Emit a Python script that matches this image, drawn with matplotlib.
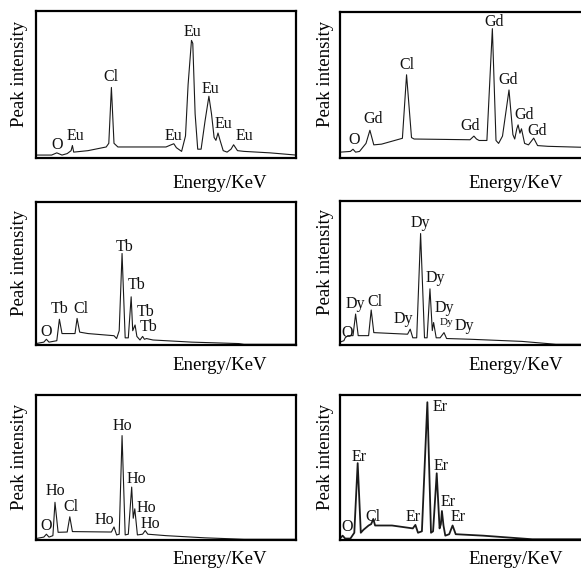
import matplotlib
matplotlib.use("Agg")
import matplotlib.pyplot as plt

plt.rcParams['font.family'] = ['Liberation Serif', 'DejaVu Serif']

# ---- traced spectra (normalised energy 0..1, normalised intensity 0..1) ----
eu_x = [0.00, 0.06, 0.08, 0.10, 0.12, 0.135, 0.14, 0.145, 0.20, 0.27, 0.28, 0.29, 0.30, 0.315,
        0.50, 0.52, 0.53, 0.54, 0.56, 0.575, 0.585, 0.598, 0.603, 0.612, 0.622, 0.635, 0.650,
        0.665, 0.675, 0.685, 0.692, 0.700, 0.708, 0.72, 0.735, 0.75, 0.76, 0.775, 0.80, 0.90, 1.00]
eu_y = [0.02, 0.02, 0.035, 0.02, 0.03, 0.05, 0.085, 0.04, 0.05, 0.075, 0.10, 0.48, 0.10, 0.075,
        0.075, 0.09, 0.097, 0.07, 0.045, 0.15, 0.50, 0.80, 0.78, 0.30, 0.06, 0.06, 0.25,
        0.42, 0.30, 0.14, 0.12, 0.17, 0.12, 0.05, 0.04, 0.06, 0.09, 0.05, 0.045, 0.035, 0.02]
eu_labels = ["O", "Eu", "Cl", "Eu", "Eu", "Eu", "Eu", "Eu"]
eu_lx = [0.08, 0.15, 0.29, 0.53, 0.60, 0.67, 0.72, 0.80]
eu_ly = [0.09, 0.15, 0.55, 0.15, 0.86, 0.47, 0.23, 0.15]

gd_x = [0.00, 0.04, 0.05, 0.06, 0.075, 0.10, 0.115, 0.13, 0.16, 0.24, 0.256, 0.275, 0.285,
        0.50, 0.515, 0.525, 0.535, 0.565, 0.586, 0.600, 0.61, 0.625, 0.65, 0.665, 0.672, 0.68,
        0.685, 0.692, 0.698, 0.71, 0.725, 0.745, 0.76, 0.80, 0.90, 1.00]
gd_y = [0.04, 0.045, 0.06, 0.04, 0.045, 0.10, 0.19, 0.09, 0.095, 0.135, 0.57, 0.14, 0.13,
        0.125, 0.15, 0.13, 0.12, 0.12, 0.886, 0.12, 0.10, 0.15, 0.466, 0.16, 0.13, 0.20,
        0.227, 0.17, 0.20, 0.10, 0.09, 0.136, 0.085, 0.08, 0.075, 0.07]
gd_labels = ["O", "Gd", "Cl", "Gd", "Gd", "Gd", "Gd", "Gd"]
gd_lx = [0.054, 0.128, 0.256, 0.50, 0.592, 0.647, 0.71, 0.76]
gd_ly = [0.125, 0.27, 0.636, 0.22, 0.93, 0.534, 0.295, 0.186]

tb_x = [0.00, 0.03, 0.04, 0.05, 0.08, 0.09, 0.10, 0.15, 0.158, 0.168, 0.20, 0.30, 0.31, 0.32,
        0.331, 0.343, 0.355, 0.366, 0.372, 0.381, 0.388, 0.40, 0.41, 0.417, 0.425, 0.45, 0.60,
        0.78, 0.80, 1.00]
tb_y = [0.01, 0.02, 0.04, 0.02, 0.03, 0.18, 0.08, 0.08, 0.186, 0.09, 0.08, 0.065, 0.045, 0.10,
        0.64, 0.05, 0.05, 0.337, 0.10, 0.14, 0.06, 0.035, 0.06, 0.04, 0.045, 0.035, 0.02,
        0.01, 0.005, 0.005]
tb_labels = ["O", "Tb", "Cl", "Tb", "Tb", "Tb", "Tb"]
tb_lx = [0.04, 0.092, 0.174, 0.34, 0.388, 0.423, 0.433]
tb_ly = [0.093, 0.25, 0.25, 0.686, 0.42, 0.23, 0.128]

dy_x = [0.00, 0.015, 0.02, 0.03, 0.05, 0.06, 0.07, 0.11, 0.12, 0.13, 0.20, 0.26, 0.27, 0.28,
        0.295, 0.31, 0.325, 0.335, 0.346, 0.355, 0.36, 0.37, 0.385, 0.40, 0.41, 0.50, 0.70,
        0.83, 1.00]
dy_y = [0.02, 0.03, 0.05, 0.065, 0.065, 0.215, 0.065, 0.065, 0.243, 0.086, 0.08, 0.075, 0.11,
        0.05, 0.05, 0.774, 0.05, 0.05, 0.39, 0.10, 0.156, 0.05, 0.05, 0.086, 0.045, 0.04, 0.025,
        0.005, 0.005]
dy_labels = ["O", "Dy", "Cl", "Dy", "Dy", "Dy", "Dy", "Dy", "Dy"]
dy_lx = [0.026, 0.058, 0.135, 0.244, 0.308, 0.368, 0.40, 0.41, 0.48]
dy_ly = [0.085, 0.284, 0.296, 0.184, 0.846, 0.466, 0.26, 0.156, 0.133]
dy_small = [False, False, False, False, False, False, False, True, False]

ho_x = [0.00, 0.03, 0.04, 0.05, 0.065, 0.073, 0.085, 0.12, 0.13, 0.14, 0.29, 0.30, 0.31, 0.32,
        0.331, 0.343, 0.355, 0.368, 0.374, 0.38, 0.39, 0.41, 0.42, 0.43, 0.50, 0.65, 0.80, 1.00]
ho_y = [0.01, 0.02, 0.04, 0.02, 0.03, 0.26, 0.053, 0.055, 0.16, 0.058, 0.055, 0.09, 0.035, 0.04,
        0.72, 0.035, 0.04, 0.365, 0.15, 0.215, 0.035, 0.04, 0.065, 0.04, 0.03, 0.015, 0.005, 0.005]
ho_labels = ["O", "Ho", "Cl", "Ho", "Ho", "Ho", "Ho", "Ho"]
ho_lx = [0.04, 0.076, 0.136, 0.264, 0.334, 0.387, 0.423, 0.44]
ho_ly = [0.095, 0.337, 0.226, 0.14, 0.785, 0.42, 0.22, 0.11]

er_x = [0.00, 0.01, 0.02, 0.04, 0.055, 0.068, 0.08, 0.09, 0.11, 0.12, 0.128, 0.135, 0.20, 0.26,
        0.28, 0.29, 0.30, 0.315, 0.336, 0.35, 0.358, 0.372, 0.383, 0.388, 0.392, 0.398, 0.405,
        0.42, 0.433, 0.445, 0.55, 0.74, 1.00]
er_y = [0.01, 0.03, 0.01, 0.01, 0.05, 0.53, 0.05, 0.07, 0.10, 0.11, 0.145, 0.10, 0.10, 0.085,
        0.08, 0.104, 0.05, 0.06, 0.95, 0.05, 0.06, 0.46, 0.08, 0.11, 0.20, 0.10, 0.03,
        0.04, 0.10, 0.04, 0.03, 0.005, 0.005]
er_labels = ["O", "Er", "Cl", "Er", "Er", "Er", "Er", "Er"]
er_lx = [0.026, 0.074, 0.125, 0.282, 0.385, 0.39, 0.417, 0.455]
er_ly = [0.09, 0.57, 0.16, 0.157, 0.92, 0.51, 0.26, 0.157]

y_label = "Peak intensity"
x_label = "Energy/KeV"

panels = [
    (eu_x, eu_y, eu_labels, eu_lx, eu_ly, None, 0.8),
    (gd_x, gd_y, gd_labels, gd_lx, gd_ly, None, 0.8),
    (tb_x, tb_y, tb_labels, tb_lx, tb_ly, None, 0.8),
    (dy_x, dy_y, dy_labels, dy_lx, dy_ly, dy_small, 0.8),
    (ho_x, ho_y, ho_labels, ho_lx, ho_ly, None, 0.8),
    (er_x, er_y, er_labels, er_lx, er_ly, None, 1.3),
]

W, H = 581, 571
fig = plt.figure(figsize=(W / 100, H / 100), dpi=100)

# axes boxes in pixels: (left, top, right, bottom)
boxes = [
    (36, 11, 296, 158), (340, 12, 600, 158),
    (36, 202, 296, 345), (340, 201, 600, 345),
    (36, 395, 296, 540), (340, 395, 600, 540),
]
xlab_pos = [(220, 183), (516, 183), (220, 366), (516, 366), (220, 560), (516, 560)]
ylab_x = [20, 326, 20, 326, 20, 326]

for i, (box, p) in enumerate(zip(boxes, panels)):
    l, t, r, b = box
    ax = fig.add_axes([l / W, 1 - b / H, (r - l) / W, (b - t) / H])
    xs, ys, labs, lx, ly, small, lw = p
    ax.plot(xs, ys, color='#1a1a1a', lw=lw)
    ax.set_xlim(0, 1)
    ax.set_ylim(0, 1)
    ax.set_xticks([])
    ax.set_yticks([])
    for s in ax.spines.values():
        s.set_linewidth(1.6)
        s.set_color('black')
    for k, (txt, x, y) in enumerate(zip(labs, lx, ly)):
        fs = 8 if (small is not None and small[k]) else 11.5
        ax.text(x, y, txt, fontsize=fs, ha='center', va='center', color='#111111')
    cy = (t + b) / 2 - 11
    fig.text(ylab_x[i] / W, 1 - cy / H, y_label, rotation=90, fontsize=13.5,
             ha='center', va='center')
    xx, yy = xlab_pos[i]
    fig.text(xx / W, 1 - yy / H, x_label, fontsize=13.5, ha='center', va='center')

fig.savefig("out.png", dpi=100)
